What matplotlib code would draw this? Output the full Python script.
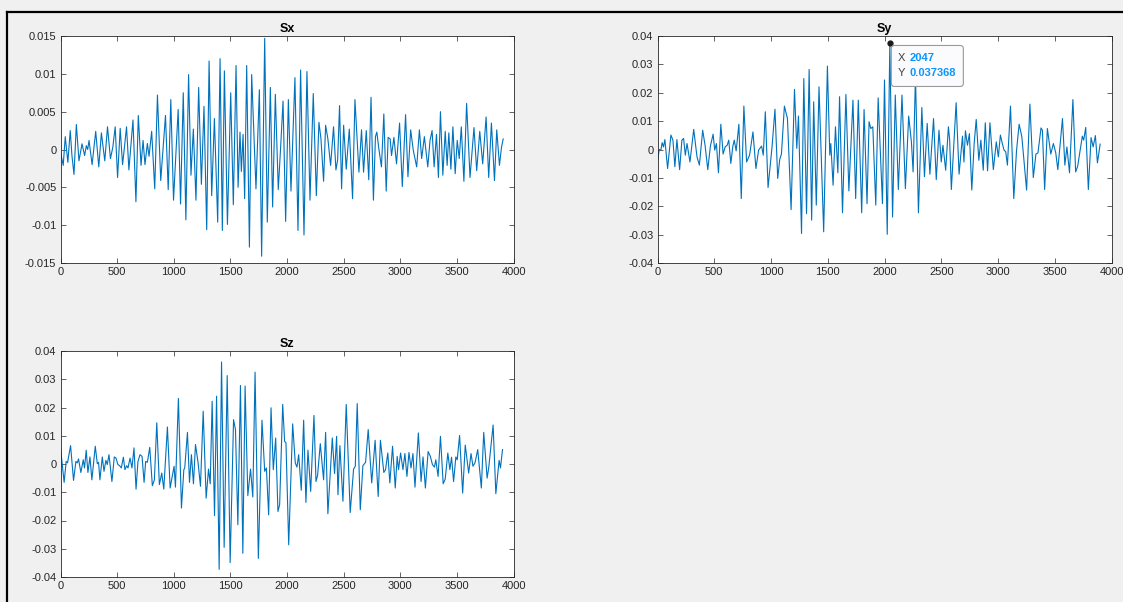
import matplotlib
matplotlib.use('Agg')
import matplotlib.pyplot as plt
from matplotlib.patches import FancyBboxPatch
from matplotlib.lines import Line2D
from matplotlib.transforms import IdentityTransform

plt.rcParams['font.family'] = ['Liberation Sans', 'DejaVu Sans']

# ---------------- data (local extrema) ----------------
x_ticks = [0, 500, 1000, 1500, 2000, 2500, 3000, 3500, 4000]
x_tick_labels = ['0', '500', '1000', '1500', '2000', '2500', '3000', '3500', '4000']

sx_ticks = [-0.015, -0.01, -0.005, 0, 0.005, 0.01, 0.015]
sx_tick_labels = ['-0.015', '-0.01', '-0.005', '0', '0.005', '0.01', '0.015']
syz_ticks = [-0.04, -0.03, -0.02, -0.01, 0, 0.01, 0.02, 0.03, 0.04]
syz_tick_labels = ['-0.04', '-0.03', '-0.02', '-0.01', '0', '0.01', '0.02', '0.03', '0.04']

sx_t = [0, 24, 42, 65, 86, 101, 119, 140, 163, 190,
        213, 228, 240, 252, 279, 311, 338, 361, 391, 415,
        441, 462, 483, 504, 527, 548, 566, 583, 604, 640,
        666, 687, 711, 729, 746, 767, 782, 805, 832, 856,
        885, 927, 951, 974, 998, 1039, 1060, 1084, 1107, 1131,
        1152, 1173, 1196, 1220, 1244, 1267, 1291, 1312, 1335,
        1359, 1388, 1409, 1429, 1447, 1474, 1503, 1526, 1550, 1568,
        1585, 1597, 1612, 1626, 1644, 1668, 1688, 1726, 1756, 1776,
        1803, 1826, 1853, 1873, 1897, 1923, 1947, 1965, 1988, 2012,
        2035, 2070, 2097, 2120, 2150, 2176, 2203, 2232, 2259, 2282,
        2300, 2323, 2341, 2361, 2385, 2411, 2432, 2447, 2464, 2482,
        2500, 2523, 2550, 2579, 2600, 2620, 2635, 2658, 2676, 2700, 2722,
        2742, 2763, 2781, 2793, 2811, 2834, 2855, 2876, 2893, 2911,
        2923, 2944, 2967, 2994, 3018, 3047, 3068, 3092, 3115, 3145,
        3169, 3189, 3213, 3243, 3263, 3281, 3299, 3320, 3337, 3355,
        3376, 3397, 3414, 3429, 3447, 3465, 3485, 3503, 3521, 3539,
        3562, 3586, 3616, 3651, 3675, 3702, 3728, 3758, 3781, 3805,
        3832, 3852, 3876, 3894, 3909]
sx_v = [-0.00035, -0.0021, 0.0017, -0.0017, 0.0025, -0.0008, -0.0033, 0.0033, -0.0015, 0.00075,
        -0.0008, 0.0005, 0.0, 0.0012, -0.002, 0.0024, -0.0023, 0.0022, -0.0015, 0.003,
        -0.0012, 0.0003, 0.003, -0.0037, 0.0028, -0.002, 0.0005, 0.003, -0.0027, 0.0039,
        -0.0069, 0.0045, -0.0021, 0.0012, -0.002, 0.0008, -0.0009, 0.0024, -0.0052, 0.0072,
        -0.0041, 0.0045, -0.0053, 0.0066, -0.0067, 0.0053, -0.0072, 0.0075, -0.0093, 0.0099,
        -0.0034, 0.0027, -0.0067, 0.0082, -0.0046, 0.0057, -0.0106, 0.0117, -0.0061,
        0.0041, -0.0096, 0.0120, -0.0107, 0.0104, -0.0099, 0.0075, -0.0073, 0.0111, -0.0050,
        0.0023, -0.0029, 0.0020, -0.0065, 0.0111, -0.0129, 0.0099, -0.0052, 0.0079, -0.0141,
        0.0147, -0.0096, 0.0082, -0.0076, 0.0073, -0.0053, 0.0012, 0.0064, -0.0095, 0.0066,
        -0.0055, 0.0095, -0.0107, 0.0105, -0.0113, 0.0103, -0.0067, 0.0074, -0.0061, 0.0036,
        0.0014, -0.0042, 0.0032, 0.0014, -0.0021, 0.0030, -0.0027, -0.0014, 0.0058, -0.0052,
        0.0032, -0.0026, 0.0027, -0.0065, 0.0066, 0.0012, -0.0030, 0.0026, -0.0030, 0.0025, -0.0040,
        0.0069, -0.0067, 0.0017, 0.0023, 0.0001, -0.0023, 0.0047, -0.0055, 0.0016, 0.0014,
        -0.0008, 0.0016, -0.0019, 0.0035, -0.0049, 0.0046, -0.0036, 0.0026, -0.0001, -0.0023,
        0.0026, -0.0012, 0.0017, -0.0023, 0.0012, 0.0025, -0.0023, 0.0020, -0.0037, 0.0050,
        -0.0034, 0.0024, -0.0021, 0.0022, -0.0026, 0.0030, -0.0032, 0.0012, -0.0012, 0.0030,
        -0.0042, 0.0061, -0.0037, 0.0029, -0.0028, 0.0024, -0.0019, 0.0043, -0.0037, 0.0035,
        -0.0041, 0.0026, -0.0021, 0.0003, 0.0014]

sy_t = [0, 15, 30, 41, 53, 65, 89, 118, 136, 153,
        171, 195, 215, 230, 245, 260, 286, 319, 348, 369,
        398, 419, 443, 466, 490, 504, 519, 537, 558, 578,
        596, 614, 628, 646, 664, 676, 693, 717, 738, 761,
        785, 811, 841, 867, 891, 917, 932, 950, 974, 1009,
        1035, 1059, 1077, 1092, 1118, 1145, 1177, 1207, 1227, 1242,
        1269, 1289, 1313, 1336,
        1358, 1376, 1399, 1423, 1464, 1497, 1518, 1527, 1547, 1568,
        1589, 1604, 1630, 1660, 1686, 1722, 1746, 1769, 1799, 1820,
        1846, 1864, 1879, 1897, 1923, 1944, 1982, 2000, 2024, 2047,
        2071, 2095, 2122, 2154, 2184, 2213, 2237, 2252, 2273, 2299,
        2329, 2352, 2376, 2400, 2421, 2432, 2456, 2480, 2500, 2515,
        2539, 2563, 2574, 2589, 2631, 2657, 2687,
        2700, 2713, 2731, 2748, 2769, 2790, 2808, 2831, 2849, 2870,
        2888, 2908, 2929, 2959, 2985, 3003, 3021, 3038, 3053, 3068,
        3083, 3110, 3139, 3163, 3186, 3210, 3252, 3281, 3311, 3334,
        3352, 3379, 3391, 3411, 3435, 3465, 3488, 3509, 3527, 3568,
        3589, 3607, 3630, 3660, 3684, 3702, 3743, 3755, 3773, 3796,
        3820, 3838, 3858, 3876, 3900]
sy_v = [-0.0044, 0.0, -0.0002, 0.0024, 0.0009, 0.0035, -0.0067, 0.0051, 0.0033, -0.0061,
        0.0035, -0.0071, 0.0033, 0.0039, -0.0020, 0.0021, -0.0044, 0.0071, -0.0026, -0.0055,
        0.0068, 0.0015, -0.0071, 0.0012, 0.0054, -0.0002, 0.0021, -0.0082, 0.0089, -0.0016,
        0.0009, 0.0015, 0.0033, -0.0049, 0.0012, 0.0033, -0.0005, 0.0089, -0.0173, 0.0153,
        -0.0044, -0.0020, 0.0062, -0.0067, -0.0002, 0.0012, -0.0020, 0.0133, -0.0134, 0.0009,
        0.0142, -0.0102, -0.0035, -0.0016, 0.0153, 0.0109, -0.0212, 0.0212, 0.0004, 0.0118,
        -0.0296, 0.0250, -0.0226, 0.0282,
        -0.0249, 0.0168, -0.0196, 0.0221, -0.0290, 0.0294, -0.0020, 0.0021, -0.0126, 0.0080,
        -0.0082, 0.0186, -0.0223, 0.0194, -0.0146, 0.0174, -0.0173, 0.0174, -0.0223, 0.0141,
        -0.0191, 0.0098, 0.0074, 0.0080, -0.0196, 0.0182, -0.0191, 0.0245, -0.0299, 0.037368,
        -0.0238, 0.0192, -0.0141, 0.0192, -0.0138, 0.0118, 0.0027, -0.0079, 0.0260, -0.0223,
        0.0148, -0.0096, 0.0092, -0.0087, 0.0045, 0.0109, -0.0106, 0.0068, -0.0044, 0.0015,
        -0.0073, 0.0080, 0.0033, -0.0141, 0.0165, -0.0087, 0.0047,
        -0.0044, 0.0066, 0.0015, 0.0056, -0.0143, 0.0021, 0.0106, -0.0038, 0.0033, -0.0073,
        0.0094, -0.0075, 0.0094, -0.0071, 0.0027, -0.0026, 0.0051, 0.0021, -0.0002, -0.0008,
        -0.0055, 0.0153, -0.0173, -0.0005, 0.0089, 0.0045, -0.0143, 0.0160, -0.0099, -0.0016,
        -0.0012, 0.0076, 0.0068, -0.0141, 0.0074, -0.0016, 0.0021, -0.0012, -0.0071, 0.0109,
        -0.0055, 0.0009, -0.0082, 0.0176, -0.0079, -0.0059, 0.0047, 0.0033, 0.0078, -0.0141,
        0.0042, 0.0009, 0.0049, -0.0047, 0.0019]

sz_t = [0, 32, 50, 62, 89, 115, 136, 148, 159, 180,
        201, 212, 227, 242, 260, 277, 307, 325, 336, 348,
        369, 384, 401, 413, 428, 454, 475, 490, 507, 522,
        537, 555, 569, 584, 596, 614, 631, 649, 667, 684,
        702, 720, 738, 752, 767, 788, 811, 829, 850, 873,
        894, 912, 944, 968, 988, 1003, 1015, 1041, 1068, 1089,
        1097, 1121, 1139, 1156, 1174, 1192, 1215, 1236, 1260, 1286,
        1307, 1322, 1339, 1360,
        1378, 1401, 1422, 1445, 1472, 1498, 1528, 1545, 1566, 1589,
        1610, 1630, 1654, 1678, 1698, 1718, 1747, 1779, 1803, 1818,
        1838, 1859, 1879, 1900, 1920, 1935, 1962, 1979, 1991, 2015,
        2050, 2073, 2088, 2103, 2126, 2147, 2167, 2185, 2209, 2238,
        2256, 2270, 2294, 2323, 2341, 2361, 2400, 2420, 2438,
        2450, 2467, 2494, 2523, 2558, 2588, 2603, 2620, 2647, 2670,
        2694, 2717,
        2748, 2778, 2805, 2825, 2855, 2870, 2890, 2908, 2932, 2956,
        2973, 2985, 3003, 3024, 3041, 3059, 3077, 3095, 3112, 3130,
        3160, 3184, 3201, 3222, 3246, 3266, 3284, 3302, 3314, 3334,
        3355, 3379, 3397, 3420, 3438, 3453, 3471, 3491, 3503, 3524,
        3551, 3574, 3604, 3625, 3642, 3660, 3684, 3716, 3737, 3767,
        3781, 3820, 3844, 3873, 3885, 3903]
sz_v = [0.0057, -0.0065, 0.0009, 0.0004, 0.0065, -0.0058, 0.0009, 0.0004, 0.0018, -0.0030,
        0.0015, -0.0014, 0.0049, -0.0030, 0.0025, -0.0056, 0.0063, 0.0001, 0.0006, -0.0056,
        0.0025, -0.0026, 0.0013, -0.0002, 0.0033, -0.0062, 0.0025, 0.0021, -0.0002, -0.0006,
        -0.0014, 0.0024, -0.0020, -0.0006, -0.0014, 0.0021, -0.0014, 0.0057, -0.0089, 0.0009,
        0.0033, 0.0027, -0.0065, 0.0009, 0.0006, 0.0059, -0.0077, -0.0056, 0.0146, -0.0073,
        -0.0032, -0.0089, 0.0131, -0.0085, -0.0041, -0.0008, -0.0082, 0.0232, -0.0156, -0.0020,
        -0.0014, 0.0112, -0.0065, 0.0033, -0.0070, 0.0069, 0.0004, -0.0079, 0.0187, -0.0121,
        -0.0018, -0.0070, 0.0222, -0.0183,
        0.0240, -0.0373, 0.0361, -0.0295, 0.0313, -0.0349, 0.0157, 0.0122, -0.0215, 0.0278,
        -0.0316, 0.0276, -0.0112, -0.0018, -0.0117, 0.0325, -0.0334, 0.0155, -0.0026, -0.0014,
        -0.0180, 0.0199, -0.0020, 0.0092, -0.0168, -0.0144, 0.0211, 0.0080, 0.0075, -0.0286,
        0.0142, 0.0004, -0.0011, 0.0033, -0.0093, 0.0155, -0.0136, 0.0049, -0.0097, 0.0172,
        -0.0062, -0.0040, 0.0072, -0.0056, 0.0112, -0.0176, 0.0092, -0.0034, 0.0098,
        -0.0109, 0.0065, -0.0132, 0.0211, -0.0172, -0.0018, -0.0008, 0.0214, -0.0162, -0.0006,
        0.0006, 0.0122,
        -0.0067, 0.0084, -0.0115, 0.0084, -0.0030, -0.0020, 0.0039, -0.0067, 0.0063, -0.0085,
        0.0027, -0.0020, 0.0039, -0.0020, 0.0037, -0.0044, 0.0041, -0.0014, 0.0037, -0.0082,
        0.0110, -0.0062, 0.0025, -0.0085, 0.0044, 0.0027, -0.0002, -0.0011, 0.0015, -0.0044,
        0.0098, -0.0070, -0.0053, 0.0039, -0.0020, 0.0024, -0.0062, 0.0025, 0.0015, 0.0101,
        -0.0103, 0.0067, -0.0032, 0.0037, -0.0008, 0.0004, 0.0051, -0.0085, 0.0112, -0.0050,
        -0.0014, 0.0138, -0.0105, 0.0013, -0.0014, 0.0051]

tip_x = 2047
tip_y = 0.037368

# ---------------- figure ----------------
W, H = 1123, 602
fig = plt.figure(figsize=(W / 100, H / 100), dpi=100, facecolor='#f0f0f0')


def rect(l, t, r, b):
    return [l / W, 1 - b / H, (r - l) / W, (b - t) / H]


LINE = '#0072BD'
AXC = '#262626'


def style(ax, yt, ytl, ylim, title):
    ax.set_facecolor('white')
    ax.set_xlim(0, 4000)
    ax.set_ylim(*ylim)
    ax.set_xticks(x_ticks)
    ax.set_xticklabels(x_tick_labels)
    ax.set_yticks(yt)
    ax.set_yticklabels(ytl)
    ax.tick_params(direction='in', length=3.5, width=0.5, colors=AXC,
                   labelsize=8, top=True, right=True, pad=3)
    for s in ax.spines.values():
        s.set_color(AXC)
        s.set_linewidth(0.6)
    ax.set_title(title, fontsize=9, fontweight='bold', color='black', pad=3)


ax1 = fig.add_axes(rect(60.5, 36, 513.5, 263))
ax2 = fig.add_axes(rect(657.5, 36, 1111.5, 263))
ax3 = fig.add_axes(rect(60.5, 351, 513.5, 577))

ax1.plot(sx_t, sx_v, color=LINE, lw=0.8)
ax2.plot(sy_t, sy_v, color=LINE, lw=0.8)
ax3.plot(sz_t, sz_v, color=LINE, lw=0.8)

style(ax1, sx_ticks, sx_tick_labels, (-0.015, 0.015), 'Sx')
style(ax2, syz_ticks, syz_tick_labels, (-0.04, 0.04), 'Sy')
style(ax3, syz_ticks, syz_tick_labels, (-0.04, 0.04), 'Sz')

# data tip on Sy
ax2.plot([tip_x], [tip_y], 'o', ms=3.5, color='#1a1a1a', clip_on=False, zorder=6)
dx, dy = ax2.transData.transform((tip_x, tip_y))
idt = IdentityTransform()
box = FancyBboxPatch((dx + 1.5, dy - 43), 72, 41,
                     boxstyle='round,pad=0,rounding_size=3',
                     transform=idt, facecolor='#fbfbfd', edgecolor='#9a9a9a',
                     lw=0.8, zorder=7, clip_on=False)
fig.add_artist(box)
fig.text(dx + 7.5, dy - 15, 'X', transform=idt, fontsize=8, color='#404040',
         va='center', ha='left', zorder=8)
fig.text(dx + 7.5, dy - 30, 'Y', transform=idt, fontsize=8, color='#404040',
         va='center', ha='left', zorder=8)
fig.text(dx + 19.5, dy - 15, f'{tip_x}', transform=idt, fontsize=8, color='#0a96ff',
         fontweight='bold', va='center', ha='left', zorder=8)
fig.text(dx + 19.5, dy - 30, f'{tip_y}', transform=idt, fontsize=8, color='#0a96ff',
         fontweight='bold', va='center', ha='left', zorder=8)

# black window frame (top and left edges)
fig.add_artist(Line2D([6.5 / W, 1], [1 - 11.5 / H, 1 - 11.5 / H], transform=fig.transFigure,
                      color='black', lw=1.6))
fig.add_artist(Line2D([6.5 / W, 6.5 / W], [0, 1 - 11.5 / H], transform=fig.transFigure,
                      color='black', lw=1.6))

fig.savefig('out.png', dpi=100, facecolor=fig.get_facecolor())
